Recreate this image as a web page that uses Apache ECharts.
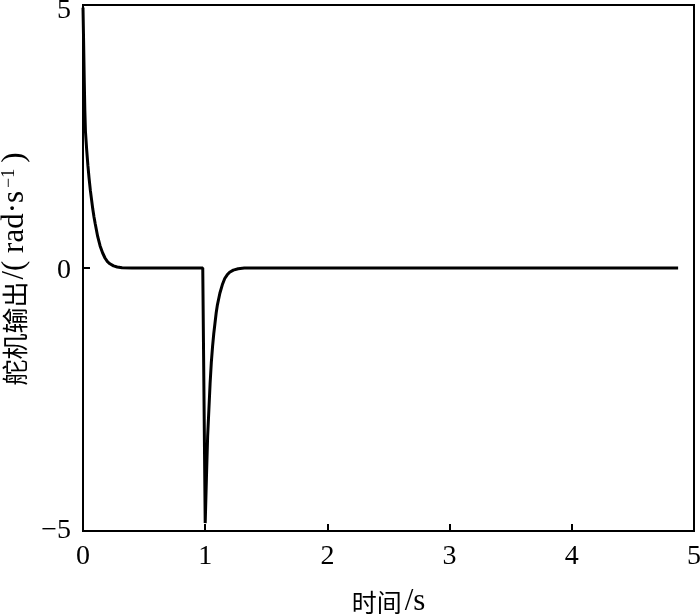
<!DOCTYPE html>
<html>
<head>
<meta charset="utf-8">
<script src="https://cdn.jsdelivr.net/npm/echarts@6/dist/echarts.min.js"></script>
<style>html,body{margin:0;padding:0;background:#fff}#c{width:700px;height:614px}</style>
</head>
<body>
<div id="c"></div>
<script>
var timeS = [0, 0.005, 0.01, 0.015, 0.02, 0.03, 0.04, 0.05, 0.06, 0.07, 0.08, 0.09, 0.1, 0.12, 0.14, 0.16, 0.18, 0.2, 0.22, 0.25, 0.28, 0.32, 0.4, 0.6, 0.8, 0.98, 0.995, 1.0, 1.01, 1.02, 1.03, 1.04, 1.05, 1.06, 1.07, 1.08, 1.09, 1.1, 1.12, 1.14, 1.16, 1.18, 1.2, 1.23, 1.27, 1.32, 1.4, 2, 3, 4, 4.87];
var output = [4.95, 4.3, 3.6, 3.0, 2.6, 2.25, 1.95, 1.7, 1.48, 1.3, 1.12, 0.97, 0.84, 0.6, 0.42, 0.29, 0.19, 0.12, 0.08, 0.04, 0.02, 0.005, 0, 0, 0, 0, -0.03, -4.85, -4.0, -3.2, -2.7, -2.2, -1.8, -1.5, -1.25, -1.05, -0.85, -0.7, -0.48, -0.32, -0.2, -0.13, -0.08, -0.04, -0.015, 0, 0, 0, 0, 0, 0];
var xTicks = [0, 1, 2, 3, 4, 5];
var yTicks = [-5, 0, 5];

var serif = '"Liberation Serif", "Times New Roman", "Noto Sans CJK SC", serif';
var cjk = '"Noto Sans CJK SC", sans-serif';
var chart = echarts.init(document.getElementById('c'));
var pts = timeS.map(function (t, i) { return [t, output[i]]; });
chart.setOption({
  animation: false,
  backgroundColor: '#fff',
  grid: { left: 83, right: 6, top: 5, bottom: 83, outerBoundsMode: 'none', containLabel: false, show: true, borderColor: '#000', borderWidth: 2, backgroundColor: 'transparent' },
  xAxis: {
    type: 'value', min: xTicks[0], max: xTicks[xTicks.length - 1], interval: 1,
    name: '{c|时间}{a|/s}', nameLocation: 'middle', nameGap: 56,
    nameTextStyle: {
      color: '#000',
      rich: {
        c: { fontFamily: cjk, fontSize: 25, color: '#000', lineHeight: 30 },
        a: { fontFamily: serif, fontSize: 31, color: '#000', lineHeight: 30, padding: [0, 0, 0, 3] }
      }
    },
    axisLine: { onZero: false, lineStyle: { color: '#000', width: 2 } },
    axisTick: { inside: true, length: 7, lineStyle: { color: '#000', width: 2 } },
    axisLabel: { fontFamily: serif, fontSize: 28, color: '#000', margin: 12 },
    splitLine: { show: false }
  },
  yAxis: {
    type: 'value', min: yTicks[0], max: yTicks[yTicks.length - 1], interval: 5,
    name: '{c|舵机输出}{a|/( rad·s}{s|−1}{a|)}', nameLocation: 'middle', nameGap: 41, nameRotate: 90,
    nameTextStyle: {
      color: '#000',
      rich: {
        c: { fontFamily: cjk, fontSize: 26, color: '#000', lineHeight: 30 },
        a: { fontFamily: serif, fontSize: 31, color: '#000', lineHeight: 30, padding: [0, 2, 0, 2] },
        s: { fontFamily: serif, fontSize: 18, color: '#000', verticalAlign: 'top', lineHeight: 30, padding: [0, 4, 12, 1] }
      }
    },
    axisLine: { onZero: false, lineStyle: { color: '#000', width: 2 } },
    axisTick: { inside: true, length: 7, lineStyle: { color: '#000', width: 2 } },
    axisLabel: {
      fontFamily: serif, fontSize: 28, color: '#000', margin: 12,
      formatter: function (v) {
        if (v === 5) return '{top|5}';
        if (v === 0) return '{mid|0}';
        return v < 0 ? '−' + Math.abs(v) : String(v);
      },
      rich: {
        top: { fontFamily: serif, fontSize: 28, color: '#000', padding: [12, 0, 0, 0] },
        mid: { fontFamily: serif, fontSize: 28, color: '#000', padding: [6, 0, 0, 0] }
      }
    },
    splitLine: { show: false }
  },
  series: [{
    type: 'line', data: pts, showSymbol: false, smooth: false,
    lineStyle: { color: '#000', width: 3 }, clip: true
  }]
});
</script>
</body>
</html>
